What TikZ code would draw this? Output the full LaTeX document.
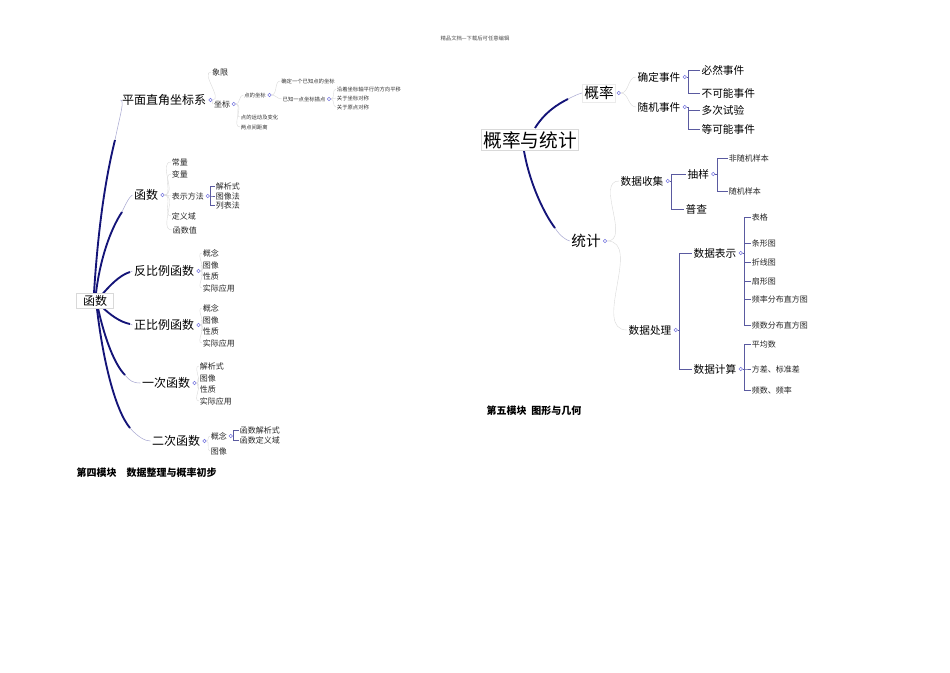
\documentclass[tikz,border=0pt]{standalone}
\usepackage{fontspec}
\setmainfont{Noto Sans CJK SC}
\usetikzlibrary{positioning,backgrounds}
\definecolor{navy}{RGB}{20,20,120}
\definecolor{lav}{RGB}{170,170,210}
\begin{document}
\begin{tikzpicture}[x=0.75pt,y=-0.75pt,
  tt/.style={font=\fontsize{4}{5}\selectfont,inner sep=0.5pt,text=black!80},
  ts/.style={font=\fontsize{6}{7}\selectfont,inner sep=0.5pt,text=black!85},
  tm/.style={font=\fontsize{9}{10}\selectfont,inner sep=1pt},
  te/.style={font=\fontsize{8}{9}\selectfont,inner sep=1pt},
  tl/.style={font=\fontsize{11}{12}\selectfont,inner sep=1pt},
  root/.style={draw=black!15,fill=white,inner sep=1.5pt},
  od/.style={circle,draw=lav!70!blue,inner sep=0,minimum size=2.6pt,right=0.6pt of #1},
  br/.style={draw=navy!70,line width=0.6pt},
  cv/.style={draw=black!15,line width=0.3pt},
  thk/.style={draw=navy,line width=1.4pt},
  thn/.style={draw=lav,line width=0.4pt}]
\useasboundingbox (0,0) rectangle (950,672);
\node[tt,text=black!70] (hdr) at (475,38) {精品文档---下载后可任意编辑};
% ===== left map =====
\node[tm,root,minimum width=28pt] (f) at (95,301) {函数};
\node[tm] (pm) at (164,100) {平面直角坐标系}; \node[od=pm] (pmo) {};
\node[tm] (hs) at (146,195) {函数}; \node[od=hs] (hso) {};
\node[tm] (fb) at (164,271) {反比例函数}; \node[od=fb] (fbo) {};
\node[tm] (zb) at (164,325) {正比例函数}; \node[od=zb] (zbo) {};
\node[tm] (yc) at (166,383) {一次函数}; \node[od=yc] (yco) {};
\node[tm] (ec) at (176,441) {二次函数}; \node[od=ec] (eco) {};
\begin{scope}[on background layer]
\draw[thk] (94,293) .. controls (98,230) and (105,180) .. (115,140);
\draw[thn] (115,140) .. controls (120,115) and (125,100) .. (pm.west);
\draw[thk] (96,293) .. controls (100,260) and (110,230) .. (122,212);
\draw[thn] (122,212) .. controls (126,203) and (130,196) .. (hs.west);
\draw[thk] (100,297) .. controls (110,285) and (120,275) .. (130,272);
\draw[thn] (130,272) -- (fb.west);
\draw[thk] (100,305) .. controls (110,315) and (120,322) .. (130,324);
\draw[thn] (130,324) -- (zb.west);
\draw[thk] (98,308) .. controls (105,340) and (115,365) .. (125,375);
\draw[thn] (125,375) .. controls (130,381) and (133,383) .. (yc.west);
\draw[thk] (97,309) .. controls (103,360) and (115,410) .. (130,428);
\draw[thn] (130,428) .. controls (138,437) and (145,441) .. (ec.west);
\end{scope}
% coordinate system
\node[ts] (xx) at (220,72) {象限};
\node[ts] (zbz) at (222,104) {坐标}; \node[od=zbz] (zbzo) {};
\node[tt] (ddz) at (255,95) {点的坐标}; \node[od=ddz] (ddzo) {};
\node[tt] (qd) at (308,81) {确定一个已知点的坐标};
\node[tt] (yz) at (304,99) {已知一点坐标描点}; \node[od=yz] (yzo) {};
\node[tt,anchor=west] (py) at (336,89) {沿着坐标轴平行的方向平移};
\node[tt,anchor=west] (zs) at (336,98) {关于坐标对称};
\node[tt,anchor=west] (yd) at (336,107) {关于原点对称};
\node[tt,anchor=west] (yd2) at (240,117) {点的运动及变化};
\node[tt,anchor=west] (ld) at (240,127) {两点间距离};
\foreach \c in {xx,zbz} \draw[cv] (pmo) to[out=0,in=180] (\c.west);
\foreach \c in {ddz,yd2,ld} \draw[cv] (zbzo) to[out=0,in=180] (\c.west);
\foreach \c in {qd,yz} \draw[cv] (ddzo) to[out=0,in=180] (\c.west);
\foreach \c in {py,zs,yd} \draw[cv] (yzo) to[out=0,in=180] (\c.west);
% functions
\node[ts,anchor=west] (cl) at (171,162) {常量};
\node[ts,anchor=west] (bl) at (171,174) {变量};
\node[ts,anchor=west] (bs) at (171,196) {表示方法}; \node[od=bs] (bso) {};
\node[ts,anchor=west] (jx) at (215,186) {解析式};
\node[ts,anchor=west] (tx) at (215,196) {图像法};
\node[ts,anchor=west] (lb) at (215,205) {列表法};
\node[ts,anchor=west] (dy) at (171,216) {定义域};
\node[ts,anchor=west] (hz) at (172,230) {函数值};
\foreach \c in {cl,bl,bs,dy,hz} \draw[cv] (hso) to[out=0,in=180] (\c.west);
\foreach \c in {jx,tx,lb} \draw[br] (bso) -- ++(3,0) |- (\c.west);
\foreach \p/\y in {fbo/253,zbo/308}{
  \node[ts,anchor=west] (\p a) at (202,\y) {概念};
  \node[ts,anchor=west] (\p b) at (202,\y+12) {图像};
  \node[ts,anchor=west] (\p c) at (202,\y+23) {性质};
  \node[ts,anchor=west] (\p d) at (202,\y+35) {实际应用};
  \foreach \c in {a,b,c,d} \draw[cv] (\p) to[out=0,in=180] (\p\c.west);
}
\node[ts,anchor=west] (ya) at (199,366) {解析式};
\node[ts,anchor=west] (yb) at (199,378) {图像};
\node[ts,anchor=west] (yc2) at (199,389) {性质};
\node[ts,anchor=west] (yd3) at (199,401) {实际应用};
\foreach \c in {ya,yb,yc2,yd3} \draw[cv] (yco) to[out=0,in=180] (\c.west);
\node[ts,anchor=west] (gn) at (210,436) {概念}; \node[od=gn] (gno) {};
\node[ts,anchor=west] (gx) at (239,430) {函数解析式};
\node[ts,anchor=west] (gy) at (239,440) {函数定义域};
\node[ts,anchor=west] (gt) at (210,451) {图像};
\foreach \c in {gn,gt} \draw[cv] (eco) to[out=0,in=180] (\c.west);
\foreach \c in {gx,gy} \draw[br] (gno) -- ++(3,0) |- (\c.west);
\node[font=\fontsize{7.5}{9}\selectfont\bfseries,anchor=west] (t4) at (72,473) {第四模块\quad 数据整理与概率初步};
% ===== right map =====
\node[font=\fontsize{14}{16}\selectfont,root] (r) at (530,140) {概率与统计};
\node[tl,root,draw=black!8] (gl) at (599,93) {概率}; \node[od=gl] (glo) {};
\node[tl] (tj) at (586,241) {统计}; \node[od=tj] (tjo) {};
\begin{scope}[on background layer]
\draw[thk] (535,128) .. controls (545,112) and (558,104) .. (568,99);
\draw[thn] (568,99) .. controls (574,96) and (578,94) .. (gl.west);
\draw[thk] (524,151) .. controls (530,185) and (545,215) .. (555,228);
\draw[thn] (555,228) .. controls (560,236) and (566,240) .. (tj.west);
\end{scope}
\node[te] (qs) at (659,77) {确定事件}; \node[od=qs] (qso) {};
\node[te] (ss) at (659,107) {随机事件}; \node[od=ss] (sso) {};
\foreach \c in {qs,ss} \draw[cv] (glo) to[out=0,in=180] (\c.west);
\node[te,anchor=west] (br1) at (700,70) {必然事件};
\node[te,anchor=west] (br2) at (700,93) {不可能事件};
\node[te,anchor=west] (br3) at (700,110) {多次试验};
\node[te,anchor=west] (br4) at (700,129) {等可能事件};
\foreach \c in {br1,br2} \draw[br] (qso) -- ++(4,0) |- (\c.west);
\foreach \c in {br3,br4} \draw[br] (sso) -- ++(4,0) |- (\c.west);
\node[te] (sj) at (642,181) {数据收集}; \node[od=sj] (sjo) {};
\node[te] (sp) at (650,330) {数据处理}; \node[od=sp] (spo) {};
\foreach \c in {sj,sp} \draw[cv] (tjo) to[out=0,in=180] (\c.west);
\node[te,anchor=west] (cy) at (686,174) {抽样}; \node[od=cy] (cyo) {};
\node[te,anchor=west] (pc) at (684,209) {普查};
\foreach \c in {cy,pc} \draw[br] (sjo) -- ++(4,0) |- (\c.west);
\node[ts,anchor=west] (f1) at (728,158) {非随机样本};
\node[ts,anchor=west] (f2) at (728,191) {随机样本};
\foreach \c in {f1,f2} \draw[br] (cyo) -- ++(4,0) |- (\c.west);
\node[te,anchor=west] (bx) at (692,253) {数据表示}; \node[od=bx] (bxo) {};
\node[te,anchor=west] (js) at (692,369) {数据计算}; \node[od=js] (jso) {};
\foreach \c in {bx,js} \draw[br] (spo) -- ++(4,0) |- (\c.west);
\foreach \n/\y/\t in {a1/217/表格,a2/243/条形图,a3/262/折线图,a4/281/扇形图,a5/299/频率分布直方图,a6/325/频数分布直方图}{
  \node[ts,anchor=west] (\n) at (751,\y) {\t};
  \draw[br] (bxo) -- ++(4,0) |- (\n.west);
}
\foreach \n/\y/\t in {b1/344/平均数,b2/369/方差、标准差,b3/390/频数、频率}{
  \node[ts,anchor=west] (\n) at (751,\y) {\t};
  \draw[br] (jso) -- ++(4,0) |- (\n.west);
}
\node[font=\fontsize{7.5}{9}\selectfont\bfseries,anchor=west] (t5) at (482,411) {第五模块\ \ 图形与几何};
\end{tikzpicture}
\end{document}
